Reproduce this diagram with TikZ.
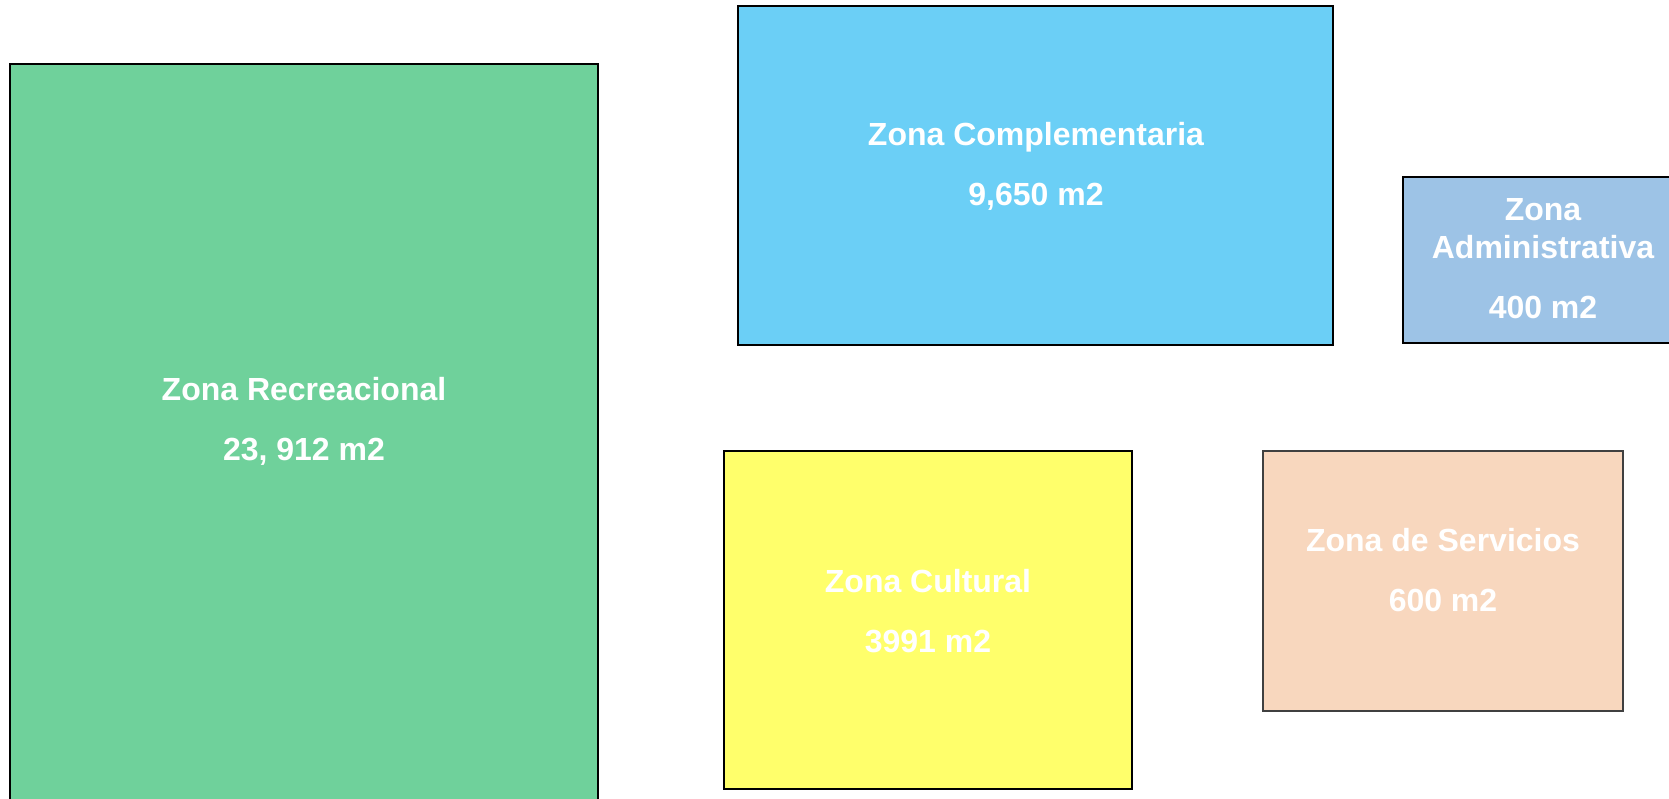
\documentclass[tikz,border=0pt]{standalone}
\usepackage{fontspec}
\setmainfont{Liberation Sans}
\usetikzlibrary{positioning}
\definecolor{verdeRec}{HTML}{6FD19B}
\definecolor{azulCom}{HTML}{6BCFF6}
\definecolor{azulAdm}{HTML}{9DC3E6}
\definecolor{amarCul}{HTML}{FFFF6B}
\definecolor{durazSer}{HTML}{F8D7BE}
\begin{document}
\begin{tikzpicture}[
    x=1pt, y=-1pt,
    zona/.style={rectangle, draw=black, line width=2.6pt, inner sep=0pt},
    etiqueta/.style={font=\fontsize{32}{38}\selectfont\bfseries, text=white, align=center}
]
\useasboundingbox (0,0) rectangle (1669,798);
% --- Zonas ---
\node[zona, fill=verdeRec, minimum width=588pt, minimum height=750pt] (recreacional) at (304,439) {};
\node[zona, fill=azulCom, minimum width=595pt, minimum height=339pt] (complementaria) at (1035.5,175.5) {};
\node[zona, fill=azulAdm, minimum width=280pt, minimum height=166pt] (administrativa) at (1543,260) {};
\node[zona, fill=amarCul, minimum width=408pt, minimum height=338pt] (cultural) at (928,620) {};
\node[zona, draw=black!75, fill=durazSer, minimum width=360pt, minimum height=260pt] (servicios) at (1443,581) {};

% --- Textos ---
\node[etiqueta] (recreacional-txt) at (304,421) {Zona Recreacional\\[22pt]23, 912 m2};
\node[etiqueta] (complementaria-txt) at (1036,166) {Zona Complementaria\\[22pt]9,650 m2};
\node[etiqueta] (administrativa-txt) at (1543,259) {Zona\\Administrativa\\[22pt]400 m2};
\node[etiqueta] (cultural-txt) at (928,611) {Zona Cultural\\[22pt]3991 m2};
\node[etiqueta] (servicios-txt) at (1443,570) {Zona de Servicios\\[22pt]600 m2};
\end{tikzpicture}
\end{document}
